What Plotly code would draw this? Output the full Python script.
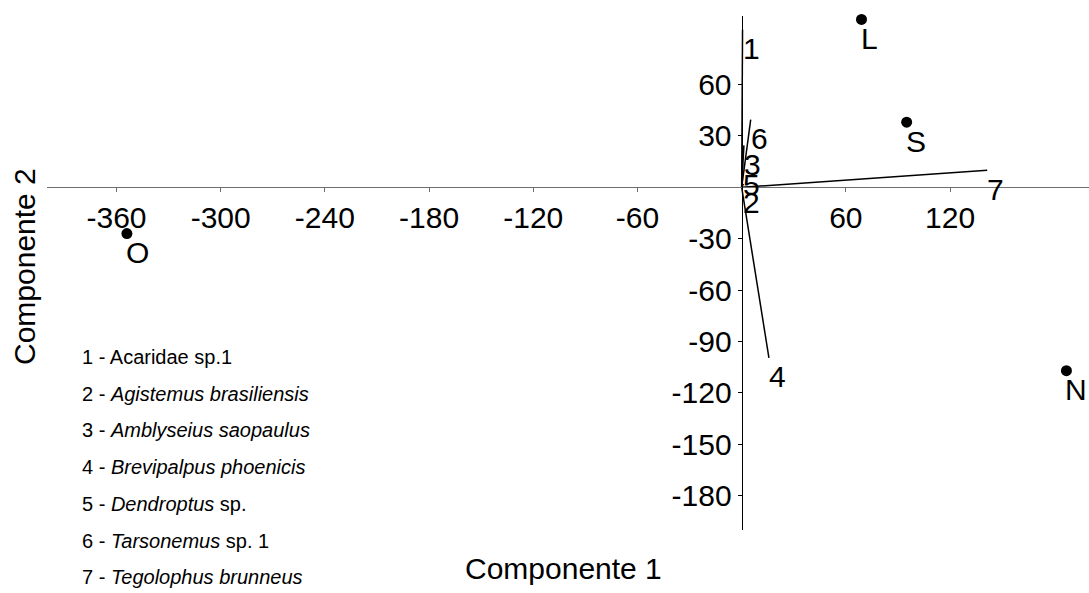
import plotly.graph_objects as go

# ---- data ----
point_names = ["L", "S", "O", "N"]
point_x = [69, 95, -354, 187]
point_y = [98, 38, -27, -107]

vector_names = ["1", "2", "3", "4", "5", "6", "7"]
vector_x = [0.5, 1.0, 1.3, 15.7, 0.5, 5.2, 141.4]
vector_y = [92, 2, 24.5, -99.6, 13, 39.5, 9.9]

legend_entries = [
    "1 - Acaridae sp.1",
    "2 - <i>Agistemus brasiliensis</i>",
    "3 - <i>Amblyseius saopaulus</i>",
    "4 - <i>Brevipalpus phoenicis</i>",
    "5 - <i>Dendroptus</i> sp.",
    "6 - <i>Tarsonemus</i> sp. 1",
    "7 - <i>Tegolophus brunneus</i>",
]

x_ticks = [-360, -300, -240, -180, -120, -60, 60, 120]
y_ticks = [60, 30, -30, -60, -90, -120, -150, -180]
x_range = [-400, 200]
y_range = [-200, 100]
x_title = "Componente 1"
y_title = "Componente 2"

FONT = "Arial, 'Liberation Sans', sans-serif"
W, H = 1089, 593
ML, MR, MT, MB = 47, 0, 16, 63
plot_h = H - MT - MB

fig = go.Figure()

# vectors
vx, vy = [], []
for x, y in zip(vector_x, vector_y):
    vx += [0, x, None]
    vy += [0, y, None]
fig.add_trace(go.Scatter(x=vx, y=vy, mode="lines",
                         line=dict(color="black", width=1.5),
                         hoverinfo="skip", showlegend=False))

# points
fig.add_trace(go.Scatter(x=point_x, y=point_y, mode="markers",
                         marker=dict(color="black", size=11),
                         cliponaxis=False, showlegend=False))

annotations = []
for n, x, y in zip(point_names, point_x, point_y):
    annotations.append(dict(x=x, y=y, xref="x", yref="y", text=n, showarrow=False,
                            xanchor="left", yanchor="middle", xshift=-3, yshift=-19,
                            font=dict(family=FONT, size=30, color="black")))
for n, x, y in zip(vector_names, vector_x, vector_y):
    annotations.append(dict(x=x, y=y, xref="x", yref="y", text=n, showarrow=False,
                            xanchor="left", yanchor="middle", xshift=-2, yshift=-19,
                            font=dict(family=FONT, size=30, color="black")))

# legend text block
for i, t in enumerate(legend_entries):
    ypix = 357 + 36.7 * i
    annotations.append(dict(x=0, y=(H - MB - ypix) / plot_h, xref="paper", yref="paper",
                            text=t, showarrow=False, xanchor="left", yanchor="middle",
                            xshift=33, font=dict(family=FONT, size=20, color="black")))

# axis titles
annotations.append(dict(x=0.496, y=0, xref="paper", yref="paper", text=x_title,
                        showarrow=False, xanchor="center", yanchor="middle", yshift=-38,
                        font=dict(family=FONT, size=30, color="black")))
annotations.append(dict(x=0, y=(H - MB - 267) / plot_h, xref="paper", yref="paper",
                        text=y_title, textangle=-90, showarrow=False,
                        xanchor="center", yanchor="middle", xshift=-23,
                        font=dict(family=FONT, size=30, color="black")))

xpos = (0 - y_range[0]) / (y_range[1] - y_range[0])
ypos = (0 - x_range[0]) / (x_range[1] - x_range[0])

fig.update_layout(
    width=W, height=H,
    margin=dict(l=ML, r=MR, t=MT, b=MB),
    paper_bgcolor="white", plot_bgcolor="white",
    showlegend=False,
    annotations=annotations,
    xaxis=dict(range=x_range, anchor="free", position=xpos,
               showline=True, linecolor="#6e6e6e", linewidth=1.2,
               ticks="outside", ticklen=4, tickcolor="#6e6e6e",
               tickvals=x_ticks, ticktext=[str(v) for v in x_ticks],
               showgrid=False, zeroline=False,
               tickfont=dict(family=FONT, size=30, color="black")),
    yaxis=dict(range=y_range, anchor="free", position=ypos,
               showline=True, linecolor="black", linewidth=1.2,
               ticks="outside", ticklen=4, tickcolor="black",
               tickvals=y_ticks, ticktext=[str(v) for v in y_ticks],
               showgrid=False, zeroline=False,
               tickfont=dict(family=FONT, size=30, color="black")),
)

fig.write_html("out.html")
